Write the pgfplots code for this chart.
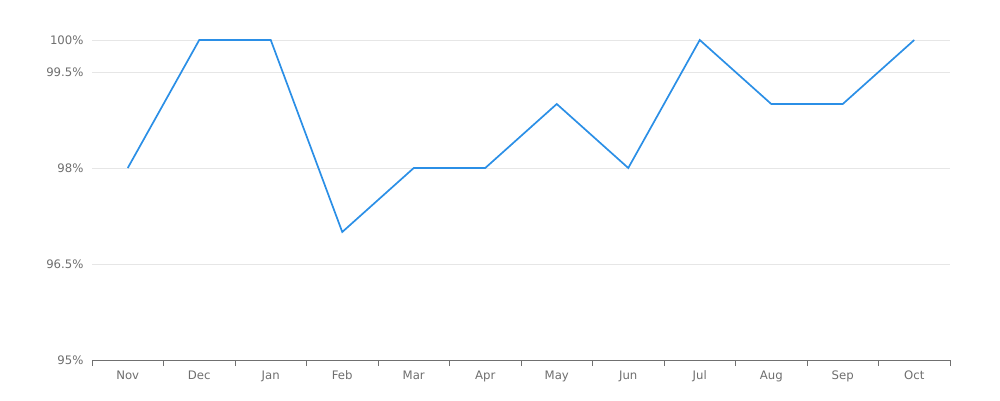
\documentclass[border=0pt]{standalone}
\usepackage{pgfplots}
\pgfplotsset{compat=1.18}
\usepackage{fontspec}
\setmainfont{DejaVu Sans}
\definecolor{linec}{HTML}{2B8FE6}
\definecolor{gridc}{HTML}{E6E6E6}
\definecolor{txt}{HTML}{6E6E6E}
\definecolor{axc}{HTML}{707070}
\begin{document}
\begin{tikzpicture}[x=1pt,y=1pt]
\path[use as bounding box] (-92,-40) rectangle (908,360);
\begin{axis}[
  at={(0,0)}, anchor=south west,
  scale only axis, width=858pt, height=320pt,
  xmin=-0.5, xmax=11.5, ymin=95, ymax=100,
  axis x line*=bottom, axis y line*=left,
  x axis line style={draw=axc, line width=0.8pt},
  y axis line style={draw=none},
  xtick={-0.5,0.5,...,11.5},
  x tick label as interval,
  xticklabels={Nov,Dec,Jan,Feb,Mar,Apr,May,Jun,Jul,Aug,Sep,Oct},
  major x tick style={draw=axc, line width=0.8pt},
  major tick length=6pt, xtick align=outside,
  ytick={95,96.5,98,99.5,100},
  yticklabels={95\%,96.5\%,98\%,99.5\%,100\%},
  major y tick style={draw=none},
  ymajorgrids, xmajorgrids=false, major grid style={draw=gridc, line width=0.8pt},
  tick label style={font=\fontsize{11.7}{13}\selectfont, text=txt},
  /pgf/number format/assume math mode=true,
  xticklabel style={yshift=-1pt},
  yticklabel style={xshift=-5pt},
  clip=false,
]
\addplot[linec, line width=1.7pt, line join=miter] coordinates {
(0,98) (1,100) (2,100) (3,97) (4,98) (5,98) (6,99) (7,98) (8,100) (9,99) (10,99) (11,100)
};
\end{axis}
\end{tikzpicture}
\end{document}
